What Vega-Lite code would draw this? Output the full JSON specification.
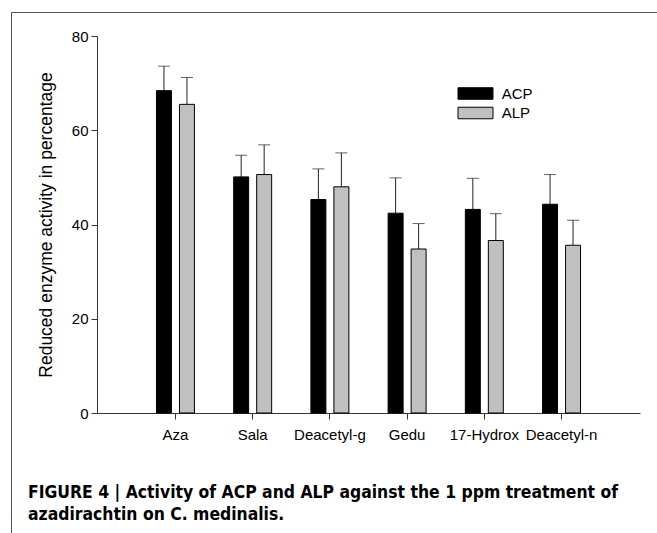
{
  "$schema": "https://vega.github.io/schema/vega-lite/v6.json",
  "autosize": {"type": "none"},
  "padding": {"left": 11, "top": 12, "right": 0, "bottom": 0},
  "width": 646,
  "height": 521,
  "background": "white",
  "config": {
    "view": {"stroke": "#555", "strokeWidth": 1},
    "font": "Liberation Sans"
  },
  "data": {
    "values": [
      {"compound": "Aza", "enzyme": "ACP", "value": 68.4, "upper": 73.6},
      {"compound": "Aza", "enzyme": "ALP", "value": 65.5, "upper": 71.2},
      {"compound": "Sala", "enzyme": "ACP", "value": 50.1, "upper": 54.7},
      {"compound": "Sala", "enzyme": "ALP", "value": 50.6, "upper": 56.9},
      {"compound": "Deacetyl-g", "enzyme": "ACP", "value": 45.3, "upper": 51.8},
      {"compound": "Deacetyl-g", "enzyme": "ALP", "value": 48.0, "upper": 55.2},
      {"compound": "Gedu", "enzyme": "ACP", "value": 42.4, "upper": 49.9},
      {"compound": "Gedu", "enzyme": "ALP", "value": 34.8, "upper": 40.2},
      {"compound": "17-Hydrox", "enzyme": "ACP", "value": 43.2, "upper": 49.8},
      {"compound": "17-Hydrox", "enzyme": "ALP", "value": 36.6, "upper": 42.3},
      {"compound": "Deacetyl-n", "enzyme": "ACP", "value": 44.3, "upper": 50.6},
      {"compound": "Deacetyl-n", "enzyme": "ALP", "value": 35.6, "upper": 40.9}
    ]
  },
  "encoding": {
    "x": {
      "field": "compound",
      "type": "nominal",
      "sort": ["Aza", "Sala", "Deacetyl-g", "Gedu", "17-Hydrox", "Deacetyl-n"],
      "scale": {"range": [86, 629], "paddingInner": 0.508, "paddingOuter": 0.77},
      "axis": {
        "title": null,
        "orient": "bottom",
        "offset": -120,
        "labelAngle": 0,
        "tickSize": 6,
        "labelPadding": 8,
        "labelFontSize": 15,
        "labelColor": "black",
        "labelFont": "Liberation Sans",
        "labelOverlap": false,
        "labelBound": false,
        "labelFlush": false,
        "domainColor": "#333",
        "tickColor": "#333"
      }
    },
    "xOffset": {
      "field": "enzyme",
      "type": "nominal",
      "sort": ["ACP", "ALP"],
      "scale": {"paddingInner": 0.348, "paddingOuter": 0}
    },
    "y": {
      "field": "value",
      "type": "quantitative",
      "title": "Reduced enzyme activity in percentage",
      "scale": {"domain": [0, 80], "range": [401, 24], "nice": false, "zero": true},
      "axis": {
        "values": [0, 20, 40, 60, 80],
        "offset": -86,
        "grid": false,
        "tickSize": 6,
        "labelPadding": 3,
        "labelFontSize": 15,
        "labelColor": "black",
        "labelFont": "Liberation Sans",
        "domainColor": "#333",
        "tickColor": "#333",
        "titleFontSize": 17.5,
        "titleFontWeight": "normal",
        "titleColor": "black",
        "titleFont": "Liberation Sans",
        "titlePadding": 16
      }
    }
  },
  "layer": [
    {
      "mark": {"type": "rule", "color": "#222", "strokeWidth": 1},
      "encoding": {"y2": {"field": "upper"}}
    },
    {
      "mark": {"type": "tick", "color": "#222", "thickness": 1, "size": 12},
      "encoding": {
        "y": {"field": "upper", "type": "quantitative", "title": "Reduced enzyme activity in percentage"}
      }
    },
    {
      "mark": {"type": "bar", "stroke": "black", "strokeWidth": 1},
      "encoding": {
        "fill": {
          "field": "enzyme",
          "type": "nominal",
          "scale": {"domain": ["ACP", "ALP"], "range": ["black", "#c0c0c0"]},
          "legend": {
            "orient": "none",
            "legendX": 455,
            "legendY": 72,
            "title": null,
            "padding": 0,
            "symbolType": "M-2,-0.66H2V0.66H-2Z",
            "symbolSize": 306,
            "symbolStrokeColor": "black",
            "symbolStrokeWidth": 1,
            "symbolOpacity": 1,
            "labelFontSize": 15,
            "labelFont": "Liberation Sans",
            "labelColor": "black",
            "labelOffset": 16.75,
            "rowPadding": 1.5
          }
        }
      }
    }
  ],
  "title": {
    "text": ["FIGURE 4 | Activity of ACP and ALP against the 1 ppm treatment of", "azadirachtin on C. medinalis."],
    "orient": "bottom",
    "anchor": "start",
    "frame": "group",
    "offset": -49,
    "dx": 17,
    "baseline": "top",
    "font": "DejaVu Sans Condensed, Liberation Sans",
    "fontSize": 17.4,
    "fontWeight": "bold",
    "color": "black",
    "lineHeight": 22
  }
}
